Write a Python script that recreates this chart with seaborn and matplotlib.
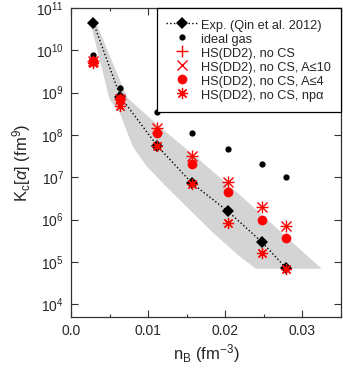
import numpy as np
import pandas as pd
import matplotlib
matplotlib.use("Agg")
import matplotlib.pyplot as plt
import seaborn as sns
from matplotlib.ticker import LogLocator, MultipleLocator, NullLocator

# ---- data ----
nB = [0.0029, 0.0064, 0.0112, 0.0157, 0.0203, 0.0248, 0.0279]
exp_K = [4.5e10, 8.0e8, 5.5e7, 7.2e6, 1.6e6, 2.9e5, 7.1e4]
ideal_K = [7.7e9, 1.3e9, 3.4e8, 1.1e8, 4.6e7, 2.1e7, 1.0e7]
hs_nocs_K = [5.5e9, 7.0e8, 1.5e8, 3.2e7, 7.8e6, 1.95e6, 7.1e5]
hs_a10_K = [5.5e9, 7.0e8, 1.5e8, 3.2e7, 7.8e6, 1.95e6, 7.1e5]
hs_a4_K = [5.6e9, 7.0e8, 1.1e8, 2.1e7, 4.4e6, 1.0e6, 3.6e5]
hs_npa_K = [5.0e9, 4.8e8, 5.5e7, 7.0e6, 8.5e5, 1.6e5, 7.0e4]

# uncertainty band of the experiment (polygon vertices)
band_x = [0.0030, 0.0073, 0.01145, 0.0166, 0.0218, 0.0325,
          0.0240, 0.0218, 0.0183, 0.0149, 0.0123, 0.0098, 0.0080, 0.0063, 0.0050, 0.0025]
band_y = [10**10.76, 10**8.88, 10**8.20, 10**7.42, 10**6.60, 10**4.84,
          10**4.84, 10**5.14, 10**5.71, 10**6.32, 10**6.79, 10**7.26, 10**7.73, 10**8.53, 10**8.84, 10**10.67]

labels = ["Exp. (Qin et al. 2012)", "ideal gas", "HS(DD2), no CS",
          "HS(DD2), no CS, A\u226410", "HS(DD2), no CS, A\u22644", "HS(DD2), no CS, np\u03b1"]

sns.set_style("ticks")
plt.rcParams['font.family'] = ['Liberation Sans', 'DejaVu Sans']
plt.rcParams['mathtext.fontset'] = 'custom'
plt.rcParams['mathtext.rm'] = 'Liberation Sans'
plt.rcParams['mathtext.it'] = 'Liberation Sans:italic'
plt.rcParams['mathtext.bf'] = 'Liberation Sans:bold'

fig = plt.figure(figsize=(3.43, 3.73), dpi=100)
ax = fig.add_axes([0.207, 0.150, 0.787, 0.8286])

ax.fill(band_x, band_y, color='#d4d4d4', lw=0, zorder=1)

sns.lineplot(x=nB, y=exp_K, ax=ax, color='black', linestyle=':', lw=1.0,
             marker='D', markersize=6.5, markeredgewidth=0, markeredgecolor='black',
             label=labels[0], zorder=3)
sns.lineplot(x=nB, y=ideal_K, ax=ax, color='black', linestyle='', marker='o',
             markersize=4.5, markeredgewidth=0, markeredgecolor='black',
             label=labels[1], zorder=3)
sns.lineplot(x=nB, y=hs_nocs_K, ax=ax, color='red', linestyle='', marker='+',
             markersize=9, markeredgewidth=1.0, markeredgecolor='red',
             label=labels[2], zorder=4)
sns.lineplot(x=nB, y=hs_a10_K, ax=ax, color='red', linestyle='', marker='x',
             markersize=7, markeredgewidth=1.0, markeredgecolor='red',
             label=labels[3], zorder=4)
sns.lineplot(x=nB, y=hs_a4_K, ax=ax, color='red', linestyle='', marker='o',
             markersize=7, markeredgewidth=0, markeredgecolor='red',
             label=labels[4], zorder=4)
sns.lineplot(x=nB, y=hs_npa_K, ax=ax, color='red', linestyle='', marker=(8, 2, 0),
             markersize=8, markeredgewidth=0.9, markeredgecolor='red',
             label=labels[5], zorder=5)

ax.set_yscale('log')
ax.set_xlim(0, 0.035)
ax.set_ylim(5e3, 1e11)
ax.xaxis.set_minor_locator(MultipleLocator(0.005))
ax.set_xticks([0, 0.01, 0.02, 0.03])
ax.set_xticklabels(['0.0', '0.01', '0.02', '0.03'])
ax.set_yticks([1e4, 1e5, 1e6, 1e7, 1e8, 1e9, 1e10, 1e11])
ax.yaxis.set_minor_locator(NullLocator())

ax.tick_params(which='both', direction='in', top=True, right=True, labelsize=10,
               color='#333333', width=0.8)
ax.tick_params(which='major', length=5, pad=5)
ax.tick_params(which='minor', length=2.5)
for s in ax.spines.values():
    s.set_linewidth(0.9)
    s.set_color('#333333')

ax.set_xlabel(r'n$_\mathrm{B}$ (fm$^{-3}$)', fontsize=12, labelpad=3)
ax.set_ylabel(r'K$_\mathrm{c}$[$\alpha$] (fm$^{9}$)', fontsize=12, labelpad=2)

leg = ax.legend(loc='upper right', fontsize=9.2, frameon=True, fancybox=False,
                borderaxespad=0, borderpad=0.75, handlelength=2.5, handletextpad=0.25,
                handleheight=1.4, labelspacing=-0.06, framealpha=1, edgecolor='black')
leg.get_frame().set_linewidth(0.9)
leg.set_zorder(10)

fig.savefig('out.png', dpi=100)
